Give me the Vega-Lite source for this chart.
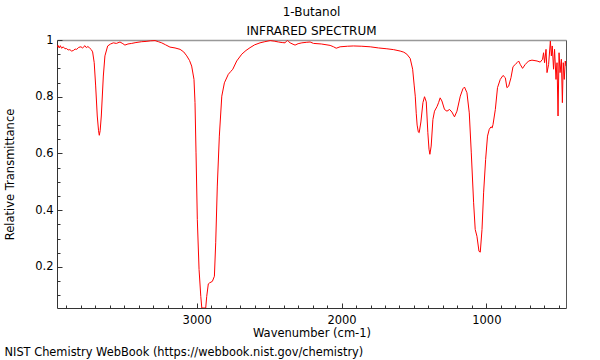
{
  "$schema": "https://vega.github.io/schema/vega-lite/v6.json",
  "autosize": "none",
  "width": 509,
  "height": 268,
  "padding": {"left": 57, "top": 40, "right": 34, "bottom": 52},
  "background": "white",
  "config": {
    "view": {"stroke": null},
    "font": "DejaVu Sans",
    "axis": {"labelFont": "DejaVu Sans", "titleFont": "DejaVu Sans", "labelFontSize": 11.5, "titleFontSize": 11.5, "titleFontWeight": "normal", "labelColor": "#000", "titleColor": "#000", "grid": false, "domainColor": "#333", "tickColor": "#333"}
  },
  "title": {
    "text": "1-Butanol",
    "subtitle": "INFRARED SPECTRUM",
    "anchor": "middle",
    "font": "DejaVu Sans",
    "subtitleFont": "DejaVu Sans",
    "fontSize": 12,
    "subtitleFontSize": 12,
    "fontWeight": "normal",
    "color": "#000",
    "subtitleColor": "#000",
    "offset": -4,
    "subtitlePadding": 7
  },
  "data": {"values": [
    {"w": 3965, "t": 0.975}, {"w": 3958, "t": 0.981}, {"w": 3950, "t": 0.972}, {"w": 3942, "t": 0.980},
    {"w": 3933, "t": 0.971}, {"w": 3922, "t": 0.976}, {"w": 3910, "t": 0.969}, {"w": 3900, "t": 0.970},
    {"w": 3888, "t": 0.965}, {"w": 3876, "t": 0.966}, {"w": 3864, "t": 0.961}, {"w": 3852, "t": 0.963},
    {"w": 3840, "t": 0.968}, {"w": 3829, "t": 0.967}, {"w": 3815, "t": 0.974}, {"w": 3800, "t": 0.976},
    {"w": 3788, "t": 0.972}, {"w": 3772, "t": 0.980}, {"w": 3762, "t": 0.973}, {"w": 3752, "t": 0.977},
    {"w": 3740, "t": 0.972}, {"w": 3728, "t": 0.966}, {"w": 3719, "t": 0.958}, {"w": 3708, "t": 0.920},
    {"w": 3698, "t": 0.838}, {"w": 3687, "t": 0.732}, {"w": 3678, "t": 0.680}, {"w": 3673, "t": 0.664},
    {"w": 3667, "t": 0.680}, {"w": 3659, "t": 0.732}, {"w": 3645, "t": 0.873}, {"w": 3634, "t": 0.944},
    {"w": 3615, "t": 0.979}, {"w": 3595, "t": 0.986}, {"w": 3576, "t": 0.990}, {"w": 3555, "t": 0.988},
    {"w": 3530, "t": 0.993}, {"w": 3510, "t": 0.987}, {"w": 3496, "t": 0.982}, {"w": 3475, "t": 0.986},
    {"w": 3449, "t": 0.988}, {"w": 3420, "t": 0.991}, {"w": 3380, "t": 0.994}, {"w": 3350, "t": 0.995},
    {"w": 3320, "t": 0.997}, {"w": 3288, "t": 0.998}, {"w": 3265, "t": 0.994}, {"w": 3242, "t": 0.990},
    {"w": 3215, "t": 0.983}, {"w": 3185, "t": 0.975}, {"w": 3150, "t": 0.972}, {"w": 3115, "t": 0.967},
    {"w": 3090, "t": 0.958}, {"w": 3069, "t": 0.944}, {"w": 3050, "t": 0.928}, {"w": 3035, "t": 0.908},
    {"w": 3019, "t": 0.861}, {"w": 3012, "t": 0.779}, {"w": 3005, "t": 0.602}, {"w": 2996, "t": 0.367},
    {"w": 2984, "t": 0.191}, {"w": 2972, "t": 0.096}, {"w": 2965, "t": 0.055}, {"w": 2938, "t": 0.055},
    {"w": 2931, "t": 0.096}, {"w": 2920, "t": 0.140}, {"w": 2913, "t": 0.143}, {"w": 2892, "t": 0.149},
    {"w": 2878, "t": 0.167}, {"w": 2869, "t": 0.285}, {"w": 2858, "t": 0.485}, {"w": 2844, "t": 0.661},
    {"w": 2827, "t": 0.802}, {"w": 2809, "t": 0.849}, {"w": 2782, "t": 0.879}, {"w": 2765, "t": 0.889},
    {"w": 2751, "t": 0.897}, {"w": 2724, "t": 0.926}, {"w": 2689, "t": 0.950}, {"w": 2660, "t": 0.963},
    {"w": 2632, "t": 0.973}, {"w": 2600, "t": 0.983}, {"w": 2563, "t": 0.990}, {"w": 2530, "t": 0.994},
    {"w": 2493, "t": 0.998}, {"w": 2465, "t": 0.996}, {"w": 2436, "t": 0.993}, {"w": 2410, "t": 0.991},
    {"w": 2390, "t": 0.990}, {"w": 2380, "t": 0.996}, {"w": 2374, "t": 0.999}, {"w": 2365, "t": 0.994},
    {"w": 2355, "t": 0.990}, {"w": 2335, "t": 0.985}, {"w": 2321, "t": 0.982}, {"w": 2300, "t": 0.987},
    {"w": 2274, "t": 0.990}, {"w": 2240, "t": 0.992}, {"w": 2217, "t": 0.993}, {"w": 2194, "t": 0.988},
    {"w": 2140, "t": 0.986}, {"w": 2079, "t": 0.981}, {"w": 2055, "t": 0.976}, {"w": 2037, "t": 0.971},
    {"w": 2010, "t": 0.976}, {"w": 1960, "t": 0.978}, {"w": 1918, "t": 0.979}, {"w": 1860, "t": 0.978},
    {"w": 1802, "t": 0.976}, {"w": 1745, "t": 0.972}, {"w": 1687, "t": 0.969}, {"w": 1640, "t": 0.966},
    {"w": 1595, "t": 0.961}, {"w": 1570, "t": 0.957}, {"w": 1549, "t": 0.950}, {"w": 1526, "t": 0.935},
    {"w": 1509, "t": 0.897}, {"w": 1498, "t": 0.838}, {"w": 1491, "t": 0.802}, {"w": 1484, "t": 0.740},
    {"w": 1478, "t": 0.700}, {"w": 1470, "t": 0.676}, {"w": 1464, "t": 0.673}, {"w": 1452, "t": 0.711},
    {"w": 1438, "t": 0.779}, {"w": 1427, "t": 0.800}, {"w": 1415, "t": 0.782}, {"w": 1404, "t": 0.673},
    {"w": 1396, "t": 0.615}, {"w": 1390, "t": 0.597}, {"w": 1381, "t": 0.626}, {"w": 1369, "t": 0.720},
    {"w": 1358, "t": 0.749}, {"w": 1341, "t": 0.765}, {"w": 1330, "t": 0.779}, {"w": 1319, "t": 0.796},
    {"w": 1307, "t": 0.785}, {"w": 1289, "t": 0.755}, {"w": 1272, "t": 0.749}, {"w": 1254, "t": 0.755},
    {"w": 1238, "t": 0.746}, {"w": 1220, "t": 0.729}, {"w": 1203, "t": 0.749}, {"w": 1180, "t": 0.802},
    {"w": 1162, "t": 0.828}, {"w": 1151, "t": 0.834}, {"w": 1134, "t": 0.814}, {"w": 1118, "t": 0.743},
    {"w": 1104, "t": 0.602}, {"w": 1088, "t": 0.426}, {"w": 1077, "t": 0.332}, {"w": 1065, "t": 0.308},
    {"w": 1051, "t": 0.255}, {"w": 1042, "t": 0.252}, {"w": 1030, "t": 0.332}, {"w": 1019, "t": 0.461},
    {"w": 1005, "t": 0.579}, {"w": 992, "t": 0.661}, {"w": 980, "t": 0.685}, {"w": 968, "t": 0.694},
    {"w": 960, "t": 0.690}, {"w": 954, "t": 0.702}, {"w": 938, "t": 0.755}, {"w": 923, "t": 0.832},
    {"w": 904, "t": 0.861}, {"w": 885, "t": 0.875}, {"w": 869, "t": 0.867}, {"w": 858, "t": 0.832},
    {"w": 846, "t": 0.837}, {"w": 830, "t": 0.867}, {"w": 816, "t": 0.906}, {"w": 800, "t": 0.914},
    {"w": 788, "t": 0.920}, {"w": 777, "t": 0.926}, {"w": 766, "t": 0.914}, {"w": 750, "t": 0.900},
    {"w": 731, "t": 0.914}, {"w": 708, "t": 0.926}, {"w": 685, "t": 0.929}, {"w": 650, "t": 0.926},
    {"w": 628, "t": 0.922}, {"w": 612, "t": 0.932}, {"w": 605, "t": 0.955}, {"w": 598, "t": 0.920},
    {"w": 588, "t": 0.967}, {"w": 581, "t": 0.885}, {"w": 570, "t": 0.914}, {"w": 558, "t": 0.996},
    {"w": 551, "t": 0.944}, {"w": 545, "t": 0.979}, {"w": 536, "t": 0.897}, {"w": 529, "t": 0.967},
    {"w": 519, "t": 0.861}, {"w": 512, "t": 0.920}, {"w": 505, "t": 0.732}, {"w": 498, "t": 0.955},
    {"w": 491, "t": 0.885}, {"w": 482, "t": 0.932}, {"w": 475, "t": 0.779}, {"w": 469, "t": 0.920},
    {"w": 462, "t": 0.861}, {"w": 455, "t": 0.926}, {"w": 450, "t": 0.908}
  ]},
  "resolve": {"axis": {"x": "independent", "y": "independent"}},
  "layer": [
    {
      "mark": {"type": "line", "color": "#ff0000", "strokeWidth": 1, "clip": true},
      "encoding": {
        "x": {"field": "w", "type": "quantitative",
          "scale": {"domain": [450, 3965], "reverse": true, "nice": false, "zero": false},
          "axis": {"orient": "bottom", "values": [1000, 2000, 3000], "format": "d", "tickSize": -5, "labelPadding": 11, "title": "Wavenumber (cm-1)", "titlePadding": 2}},
        "y": {"field": "t", "type": "quantitative",
          "scale": {"domain": [0.055, 1], "nice": false, "zero": false},
          "axis": {"orient": "left", "values": [0.2, 0.4, 0.6, 0.8, 1], "format": "~g", "tickSize": -5, "labelPadding": 9, "title": "Relative Transmittance", "titlePadding": 19}}
      }
    },
    {
      "mark": {"type": "line", "strokeOpacity": 0},
      "encoding": {
        "x": {"field": "w", "type": "quantitative",
          "axis": {"orient": "bottom", "values": [500, 600, 700, 800, 900, 1100, 1200, 1300, 1400, 1500, 1600, 1700, 1800, 1900, 2100, 2200, 2300, 2400, 2500, 2600, 2700, 2800, 2900, 3100, 3200, 3300, 3400, 3500, 3600, 3700, 3800, 3900], "labels": false, "domain": false, "tickSize": -3, "title": null}},
        "y": {"field": "t", "type": "quantitative",
          "axis": {"orient": "left", "values": [0.1, 0.15, 0.25, 0.3, 0.35, 0.45, 0.5, 0.55, 0.65, 0.7, 0.75, 0.85, 0.9, 0.95], "labels": false, "domain": false, "tickSize": -3, "title": null}}
      }
    },
    {
      "mark": {"type": "line", "strokeOpacity": 0},
      "encoding": {
        "x": {"field": "w", "type": "quantitative",
          "axis": {"orient": "top", "ticks": false, "labels": false, "domainColor": "#999", "domainWidth": 1.5, "title": null}},
        "y": {"field": "t", "type": "quantitative",
          "axis": {"orient": "right", "ticks": false, "labels": false, "domainColor": "#555", "domainWidth": 1,
            "title": "NIST Chemistry WebBook (https://webbook.nist.gov/chemistry)", "titleFontSize": 11.4, "titleAngle": 0, "titleX": -562, "titleY": 312, "titleAlign": "left", "titleBaseline": "middle"}}
      }
    }
  ]
}
